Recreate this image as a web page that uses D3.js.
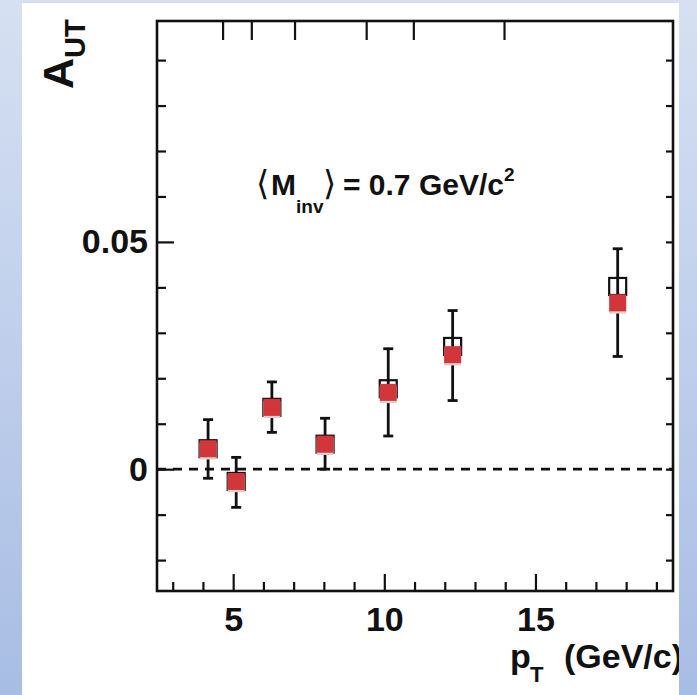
<!DOCTYPE html>
<html>
<head>
<meta charset="utf-8">
<script src="https://cdn.jsdelivr.net/npm/d3@7"></script>
<style>
  body { margin: 0; }
  svg { display: block; }
  text { font-family: "Liberation Sans", Arial, Helvetica, sans-serif; font-weight: bold; fill: #111; }
</style>
</head>
<body>
<div id="chart"></div>
<script>
const WIDTH = 697;
const HEIGHT = 695;

// data
const pT = [4.17, 5.10, 6.28, 8.04, 10.13, 12.26, 17.72];
const aut = [0.0045, -0.0027, 0.0136, 0.0055, 0.0169, 0.0252, 0.0366];
const errLow = [-0.0020, -0.0084, 0.0081, 0.0000, 0.0073, 0.0151, 0.0248];
const errHigh = [0.0109, 0.0026, 0.0192, 0.0112, 0.0265, 0.0349, 0.0485];
const autOpen = [0.0045, -0.0027, 0.0136, 0.0055, 0.0177, 0.0270, 0.0402];
const autGrey = [0.0040, -0.0032, 0.0131, 0.0050, 0.0164, 0.0247, 0.0361];

const xMajor = [5, 10, 15];
const xMinor = [3, 4, 6, 7, 8, 9, 11, 12, 13, 14, 16, 17, 18, 19];
const xTop = [4.65, 5.6, 7.03, 9.4, 10.96, 13.96];
const yMajor = [0, 0.05];
const yMinor = [-0.02, -0.01, 0.01, 0.02, 0.03, 0.04, 0.06, 0.07, 0.08, 0.09];
const yLabels = ["0", "0.05"];

const frame = { left: 157, right: 673, top: 21, bottom: 591 };

var x = d3.scaleLinear().domain([2.48, 19.55]).range([frame.left, frame.right]);
var y = d3.scaleLinear().domain([-0.0268, 0.0986]).range([frame.bottom, frame.top]);

var svg = d3.select("#chart").append("svg")
    .attr("width", WIDTH)
    .attr("height", HEIGHT);

var grad = svg.append("defs").append("linearGradient")
    .attr("id", "bg")
    .attr("gradientUnits", "userSpaceOnUse")
    .attr("x1", 0).attr("y1", 0).attr("x2", 0).attr("y2", HEIGHT);
grad.append("stop").attr("offset", "0%").attr("stop-color", "#d6e0f2");
grad.append("stop").attr("offset", "100%").attr("stop-color", "#a8bde4");

svg.append("rect").attr("width", WIDTH).attr("height", HEIGHT).attr("fill", "url(#bg)");
svg.append("rect")
    .attr("x", 22).attr("y", 3)
    .attr("width", 679 - 22).attr("height", HEIGHT - 3)
    .attr("fill", "#fff");

// zero line
svg.append("line")
    .attr("x1", frame.left).attr("x2", frame.right)
    .attr("y1", y(0)).attr("y2", y(0))
    .attr("stroke", "#111").attr("stroke-width", 2.8)
    .attr("stroke-dasharray", "9,7");

var idx = d3.range(pT.length);
const MS = 17;

// open markers
svg.append("g").selectAll("rect").data(idx).join("rect")
    .attr("x", i => x(pT[i]) - MS / 2)
    .attr("y", i => y(autOpen[i]) - MS / 2)
    .attr("width", MS).attr("height", MS)
    .attr("fill", "none").attr("stroke", "#111").attr("stroke-width", 2.2);

// error bars
var eb = svg.append("g").attr("stroke", "#111").attr("stroke-width", 2.8);
eb.selectAll(".v").data(idx).join("line")
    .attr("x1", i => x(pT[i])).attr("x2", i => x(pT[i]))
    .attr("y1", i => y(errLow[i])).attr("y2", i => y(errHigh[i]));
eb.selectAll(".lo").data(idx).join("line")
    .attr("x1", i => x(pT[i]) - 5).attr("x2", i => x(pT[i]) + 5)
    .attr("y1", i => y(errLow[i])).attr("y2", i => y(errLow[i]));
eb.selectAll(".hi").data(idx).join("line")
    .attr("x1", i => x(pT[i]) - 5).attr("x2", i => x(pT[i]) + 5)
    .attr("y1", i => y(errHigh[i])).attr("y2", i => y(errHigh[i]));

// grey markers under the red ones
svg.append("g").selectAll("rect").data(idx).join("rect")
    .attr("x", i => x(pT[i]) - MS / 2)
    .attr("y", i => y(autGrey[i]) - MS / 2)
    .attr("width", MS).attr("height", MS)
    .attr("fill", "#d6d2cc");

// red markers
svg.append("g").selectAll("rect").data(idx).join("rect")
    .attr("x", i => x(pT[i]) - MS / 2)
    .attr("y", i => y(aut[i]) - MS / 2)
    .attr("width", MS).attr("height", MS)
    .attr("fill", "#d2363b");

function styleAxis(g, size) {
  g.select(".domain").remove();
  g.selectAll(".tick line").attr("stroke", "#111").attr("stroke-width", 2.2);
  g.attr("font-size", size).attr("font-family", null);
}

svg.append("g").attr("transform", "translate(0," + frame.bottom + ")")
    .call(d3.axisBottom(x).tickValues(xMajor).tickSize(-17).tickPadding(16).tickFormat(d3.format("d")))
    .call(g => styleAxis(g, 34));
svg.append("g").attr("transform", "translate(0," + frame.bottom + ")")
    .call(d3.axisBottom(x).tickValues(xMinor).tickSize(-9).tickFormat(""))
    .call(g => styleAxis(g, 10));
svg.append("g").attr("transform", "translate(0," + frame.top + ")")
    .call(d3.axisTop(x).tickValues(xTop).tickSize(-19).tickFormat(""))
    .call(g => styleAxis(g, 10));

svg.append("g").attr("transform", "translate(" + frame.left + ",0)")
    .call(d3.axisLeft(y).tickValues(yMajor).tickSize(-17).tickPadding(9).tickFormat((d, i) => yLabels[i]))
    .call(g => styleAxis(g, 34));
svg.append("g").attr("transform", "translate(" + frame.left + ",0)")
    .call(d3.axisLeft(y).tickValues(yMinor).tickSize(-9).tickFormat(""))
    .call(g => styleAxis(g, 10));
svg.append("g").attr("transform", "translate(" + frame.right + ",0)")
    .call(d3.axisRight(y).tickValues(yMajor.concat(yMinor)).tickSize(-7).tickFormat(""))
    .call(g => styleAxis(g, 10));

// frame
svg.append("rect")
    .attr("x", frame.left).attr("y", frame.top)
    .attr("width", frame.right - frame.left).attr("height", frame.bottom - frame.top)
    .attr("fill", "none").attr("stroke", "#111").attr("stroke-width", 2.6);

// annotation <M_inv> = 0.7 GeV/c^2
var ann = svg.append("text").attr("y", 195).attr("font-size", 30);
ann.append("tspan").attr("x", 256).style("font-family", "DejaVu Sans").style("font-weight", "normal")
    .attr("font-size", 34).text("\u27E8");
ann.append("tspan").attr("x", 271).text("M");
ann.append("tspan").attr("x", 296).attr("dy", 18).attr("font-size", 19).text("inv");
ann.append("tspan").attr("x", 323).attr("dy", -18).style("font-family", "DejaVu Sans").style("font-weight", "normal")
    .attr("font-size", 34).text("\u27E9");
ann.append("tspan").attr("x", 343).text("= 0.7 GeV/c");
ann.append("tspan").attr("dy", -14).attr("font-size", 19).text("2");

// y title A_UT
var yt = svg.append("text").attr("transform", "translate(73,89) rotate(-90)").attr("font-size", 43);
yt.append("tspan").text("A");
yt.append("tspan").attr("dy", 12).attr("font-size", 29).text("UT");

// x title p_T (GeV/c)
var xt = svg.append("text").attr("y", 668).attr("font-size", 34);
xt.append("tspan").attr("x", 510).text("p");
xt.append("tspan").attr("x", 530).attr("dy", 14).attr("font-size", 22).text("T");
xt.append("tspan").attr("x", 564).attr("dy", -14).text("(GeV/c)");

// right blue border drawn over the title end
svg.append("rect")
    .attr("x", 679).attr("y", 0)
    .attr("width", WIDTH - 679).attr("height", HEIGHT)
    .attr("fill", "url(#bg)");
</script>
</body>
</html>
